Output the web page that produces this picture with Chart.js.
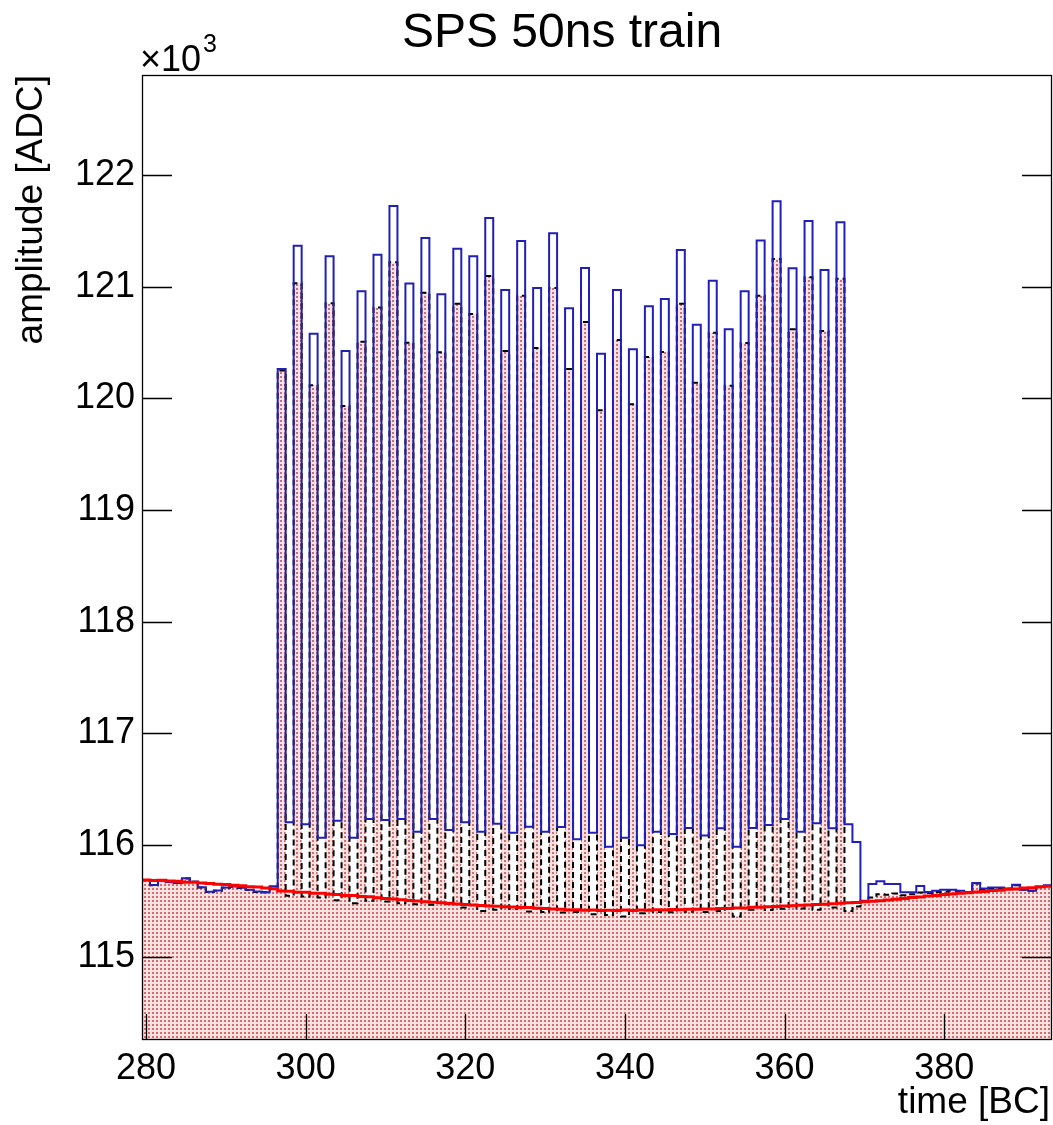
<!DOCTYPE html>
<html>
<head>
<meta charset="utf-8">
<script src="https://cdn.jsdelivr.net/npm/chart.js@4.4.1/dist/chart.umd.min.js"></script>
<style>
  html, body { margin: 0; padding: 0; background: #fff; }
  #wrap { width: 1053px; height: 1125px; }
</style>
</head>
<body>
<div id="wrap"><canvas id="spsChart" width="1053" height="1125"></canvas></div>
<script>
// bins (time in BC)
const bcBins = [
  280, 281, 282, 283, 284, 285, 286, 287, 288, 289, 290, 291, 292, 293, 294, 295, 296, 297, 298, 299,
  300, 301, 302, 303, 304, 305, 306, 307, 308, 309, 310, 311, 312, 313, 314, 315, 316, 317, 318, 319,
  320, 321, 322, 323, 324, 325, 326, 327, 328, 329, 330, 331, 332, 333, 334, 335, 336, 337, 338, 339,
  340, 341, 342, 343, 344, 345, 346, 347, 348, 349, 350, 351, 352, 353, 354, 355, 356, 357, 358, 359,
  360, 361, 362, 363, 364, 365, 366, 367, 368, 369, 370, 371, 372, 373, 374, 375, 376, 377, 378, 379,
  380, 381, 382, 383, 384, 385, 386, 387, 388, 389, 390, 391, 392, 393
];

// blue histogram (amplitude, ADC)
const blueAmp = [
  115686, 115642, 115684, 115668, 115660, 115702, 115672, 115622, 115582, 115592, 115620, 115628, 115618, 115600, 115583, 115578, 115630, 120263, 116203, 121367,
  116185, 120579, 116066, 121272, 116218, 120424, 116066, 120959, 116233, 121286, 116224, 121722, 116233, 121027, 116119, 121436, 116233, 120932, 116134, 121340,
  116203, 121272, 116119, 121615, 116191, 120970, 116110, 121409, 116164, 120988, 116119, 121478, 116161, 120806, 116051, 121167, 116110, 120400, 115985, 120970,
  116066, 120439, 115998, 120824, 116119, 120890, 116098, 121328, 116152, 120659, 116085, 121053, 116149, 120618, 115985, 120959, 116152, 121412, 116179, 121764,
  116233, 121164, 116119, 121588, 116195, 121149, 116149, 121576, 116185, 116027, 115500, 115650, 115675, 115650, 115650, 115577, 115577, 115633, 115580, 115590,
  115600, 115600, 115590, 115580, 115660, 115610, 115620, 115620, 115610, 115645, 115600, 115590, 115627, 115640
];

// black dashed histogram, filled
const blackAmp = [
  115684, 115640, 115682, 115666, 115660, 115700, 115670, 115620, 115580, 115590, 115617, 115626, 115616, 115598, 115580, 115576, 115626, 120250, 115545, 121030,
  115540, 120117, 115530, 120851, 115505, 119931, 115478, 120507, 115500, 120812, 115495, 121218, 115478, 120498, 115470, 120946, 115465, 120412, 115475, 120847,
  115440, 120755, 115410, 121096, 115420, 120424, 115430, 120919, 115405, 120451, 115400, 120988, 115395, 120263, 115400, 120684, 115380, 119893, 115373, 120522,
  115360, 119947, 115390, 120370, 115400, 120415, 115398, 120847, 115402, 120140, 115400, 120588, 115410, 120113, 115360, 120496, 115420, 120919, 115418, 121248,
  115430, 120618, 115432, 121084, 115420, 120603, 115440, 121071, 115410, 115450, 115490, 115530, 115560, 115555, 115565, 115550, 115560, 115575, 115570, 115580,
  115582, 115590, 115588, 115580, 115655, 115602, 115612, 115610, 115608, 115640, 115600, 115590, 115622, 115632
];

// red baseline
const redBase = [
  115686, 115683, 115684, 115677, 115675, 115667, 115666, 115659, 115655, 115649, 115646, 115640, 115636, 115627, 115624, 115614, 115609, 115588, 115585, 115578,
  115576, 115569, 115567, 115559, 115556, 115549, 115547, 115539, 115536, 115528, 115522, 115516, 115510, 115503, 115498, 115491, 115488, 115482, 115479, 115472,
  115468, 115462, 115459, 115453, 115451, 115447, 115446, 115441, 115440, 115434, 115431, 115427, 115424, 115419, 115420, 115416, 115418, 115414, 115416, 115413,
  115417, 115414, 115418, 115416, 115420, 115419, 115423, 115421, 115425, 115424, 115428, 115427, 115432, 115431, 115436, 115437, 115442, 115443, 115448, 115449,
  115454, 115456, 115461, 115463, 115468, 115470, 115475, 115478, 115483, 115486, 115491, 115496, 115502, 115508, 115515, 115521, 115529, 115535, 115543, 115548,
  115556, 115561, 115568, 115573, 115580, 115584, 115592, 115596, 115604, 115607, 115614, 115618, 115626, 115631
];

const xTickValues = [280, 300, 320, 340, 360, 380];
const yTickValues = [115000, 116000, 117000, 118000, 119000, 120000, 121000, 122000];

// step points at bin edges
function histPoints(values) {
  const pts = values.map((v, i) => ({ x: bcBins[i] - 0.5, y: v }));
  pts.push({ x: bcBins[bcBins.length - 1] + 0.5, y: values[values.length - 1] });
  return pts;
}

function dotPattern() {
  const c = document.createElement('canvas');
  c.width = 4; c.height = 4;
  const g = c.getContext('2d');
  g.fillStyle = 'rgb(248,226,226)';
  g.fillRect(0, 0, 4, 4);
  g.fillStyle = 'rgb(215,108,108)';
  g.fillRect(0, 0, 2, 2);
  return g.createPattern(c, 'repeat');
}

const FONT = '"Liberation Sans", Arial, Helvetica, sans-serif';

// frame, inward ticks, titles
const rootFrame = {
  id: 'rootFrame',
  afterDraw(chart) {
    const ctx = chart.ctx;
    const a = chart.chartArea;
    const xs = chart.scales.x, ys = chart.scales.y;
    ctx.save();
    ctx.strokeStyle = '#000';
    ctx.lineWidth = 1.3;
    ctx.strokeRect(a.left + 0.5, a.top + 0.5, a.right - a.left - 1, a.bottom - a.top - 1);
    ctx.beginPath();
    yTickValues.forEach(v => {
      const y = Math.round(ys.getPixelForValue(v)) + 0.5;
      ctx.moveTo(a.left, y); ctx.lineTo(a.left + 30, y);
      ctx.moveTo(a.right - 30, y); ctx.lineTo(a.right, y);
    });
    xTickValues.forEach(v => {
      const x = Math.round(xs.getPixelForValue(v)) + 0.5;
      ctx.moveTo(x, a.bottom); ctx.lineTo(x, a.bottom - 26);
    });
    ctx.stroke();

    ctx.fillStyle = '#000';
    ctx.textBaseline = 'alphabetic';
    ctx.font = '48px ' + FONT;
    ctx.textAlign = 'center';
    ctx.fillText('SPS 50ns train', 562, 47);

    ctx.textAlign = 'left';
    ctx.font = '36px ' + FONT;
    ctx.fillText('\u00d710', 140, 71);
    const w = ctx.measureText('\u00d710').width;
    ctx.font = '25px ' + FONT;
    ctx.fillText('3', 140 + w + 2, 52);

    ctx.font = '37px ' + FONT;
    ctx.textAlign = 'right';
    ctx.fillText('time [BC]', 1050, 1113);

    ctx.translate(42, 75);
    ctx.rotate(-Math.PI / 2);
    ctx.fillText('amplitude [ADC]', 0, 0);
    ctx.restore();
  }
};

const config = {
  type: 'line',
  data: {
    datasets: [
      {
        label: 'baseline',
        data: histPoints(redBase),
        borderColor: 'rgb(255,0,0)',
        borderWidth: 3,
        stepped: true,
        pointRadius: 0,
        fill: false,
        order: 0
      },
      {
        label: 'blue',
        data: histPoints(blueAmp),
        borderColor: '#2020b8',
        borderWidth: 2,
        stepped: true,
        pointRadius: 0,
        fill: false,
        order: 1
      },
      {
        label: 'black',
        data: histPoints(blackAmp),
        borderColor: '#000',
        borderWidth: 2,
        borderDash: [6, 4],
        backgroundColor: dotPattern(),
        stepped: true,
        pointRadius: 0,
        fill: 'start',
        order: 2
      }
    ]
  },
  options: {
    responsive: false,
    animation: false,
    layout: { padding: { left: 0, right: 1, top: 75, bottom: 0 } },
    scales: {
      x: {
        type: 'linear',
        min: 279.5,
        max: 393.5,
        grid: { display: false, drawTicks: false },
        border: { display: false },
        afterBuildTicks: s => { s.ticks = xTickValues.map(v => ({ value: v })); },
        afterFit: s => { s.height = 85; },
        ticks: {
          padding: 7,
          color: '#000',
          font: { family: FONT, size: 36 },
          maxRotation: 0,
          autoSkip: false
        }
      },
      y: {
        type: 'linear',
        min: 114254,
        max: 122895,
        grid: { display: false, drawTicks: false },
        border: { display: false },
        afterBuildTicks: s => { s.ticks = yTickValues.map(v => ({ value: v })); },
        afterFit: s => { s.width = 142; },
        ticks: {
          padding: 7,
          color: '#000',
          font: { family: FONT, size: 36 },
          callback: v => String(v / 1000)
        }
      }
    },
    plugins: {
      legend: { display: false },
      tooltip: { enabled: false },
      title: { display: false }
    }
  },
  plugins: [rootFrame]
};

const spsChart = new Chart(document.getElementById('spsChart'), config);
</script>
</body>
</html>
